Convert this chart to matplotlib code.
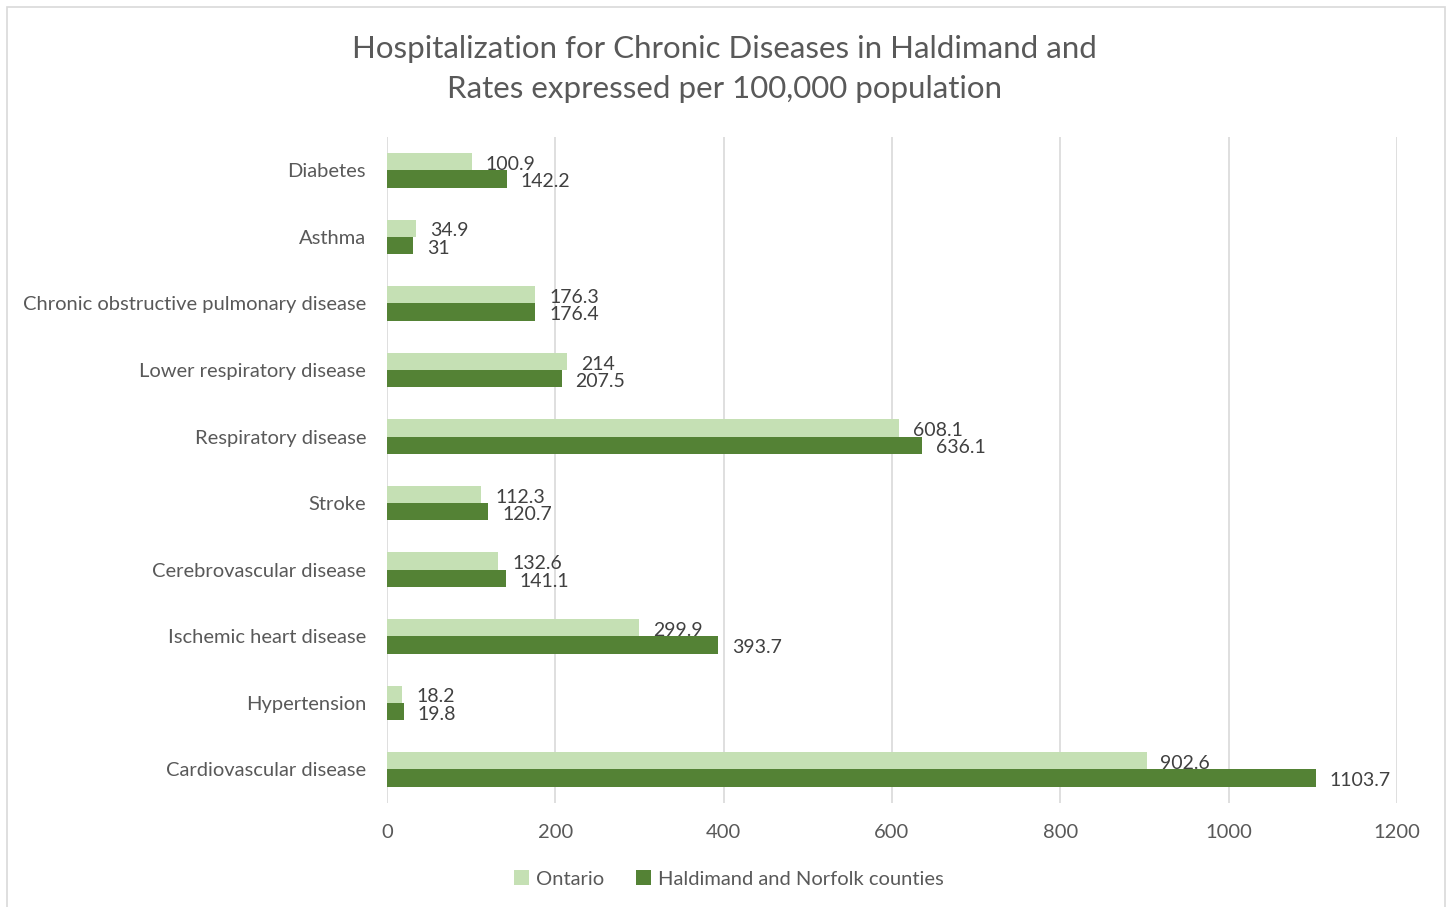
import numpy as np
import matplotlib.pyplot as plt
from matplotlib.patches import Rectangle

plt.rcParams['font.family'] = ['Lato', 'DejaVu Sans']

categories = ['Diabetes', 'Asthma', 'Chronic obstructive pulmonary disease',
              'Lower respiratory disease', 'Respiratory disease', 'Stroke',
              'Cerebrovascular disease', 'Ischemic heart disease', 'Hypertension',
              'Cardiovascular disease']
ontario = [100.9, 34.9, 176.3, 214, 608.1, 112.3, 132.6, 299.9, 18.2, 902.6]
haldimand = [142.2, 31, 176.4, 207.5, 636.1, 120.7, 141.1, 393.7, 19.8, 1103.7]
ontario_labels = ['100.9', '34.9', '176.3', '214', '608.1', '112.3', '132.6', '299.9', '18.2', '902.6']
haldimand_labels = ['142.2', '31', '176.4', '207.5', '636.1', '120.7', '141.1', '393.7', '19.8', '1103.7']

light = '#C5E0B4'
dark = '#548235'
txt = '#595959'

fig = plt.figure(figsize=(14.49, 9.07), dpi=100)
ax = fig.add_axes([0.267, 0.115, 0.697, 0.734])

# frame around the whole chart
fig.patches.append(Rectangle((0.005, -0.01), 0.992, 1.002, transform=fig.transFigure,
                             fill=False, edgecolor='#D9D9D9', linewidth=1.2))

y = np.arange(len(categories))
h = 0.26
ax.barh(y - h / 2, ontario, height=h, color=light, label='Ontario', zorder=3)
ax.barh(y + h / 2, haldimand, height=h, color=dark, label='Haldimand and Norfolk counties', zorder=3)

for i in range(len(categories)):
    ax.annotate(ontario_labels[i], (ontario[i], y[i] - h / 2), xytext=(10, -2),
                textcoords='offset points', va='center', ha='left',
                fontsize=14, color='#404040')
    ax.annotate(haldimand_labels[i], (haldimand[i], y[i] + h / 2), xytext=(10, -2),
                textcoords='offset points', va='center', ha='left',
                fontsize=14, color='#404040')

ax.set_ylim(len(categories) - 0.5, -0.5)
ax.set_xlim(0, 1200)
ax.set_xticks(np.arange(0, 1201, 200))
ax.set_yticks(y)
ax.set_yticklabels(categories)
ax.tick_params(axis='both', length=0, labelsize=14.5, labelcolor=txt)
ax.tick_params(axis='y', pad=15)
ax.tick_params(axis='x', pad=15)
ax.grid(axis='x', color='#D9D9D9', linewidth=1.2, zorder=0)
for s in ax.spines.values():
    s.set_visible(False)

fig.text(0.5, 0.924, 'Hospitalization for Chronic Diseases in Haldimand and\nRates expressed per 100,000 population',
         ha='center', va='center', fontsize=22.5, color=txt, linespacing=1.5)

fig.legend(handles=ax.get_legend_handles_labels()[0], loc='center',
           bbox_to_anchor=(0.503, 0.031), ncol=2, frameon=False,
           fontsize=14.5, labelcolor=txt, handlelength=0.75, handleheight=0.75,
           columnspacing=1.6, handletextpad=0.35)

fig.savefig('out.png', dpi=100)
